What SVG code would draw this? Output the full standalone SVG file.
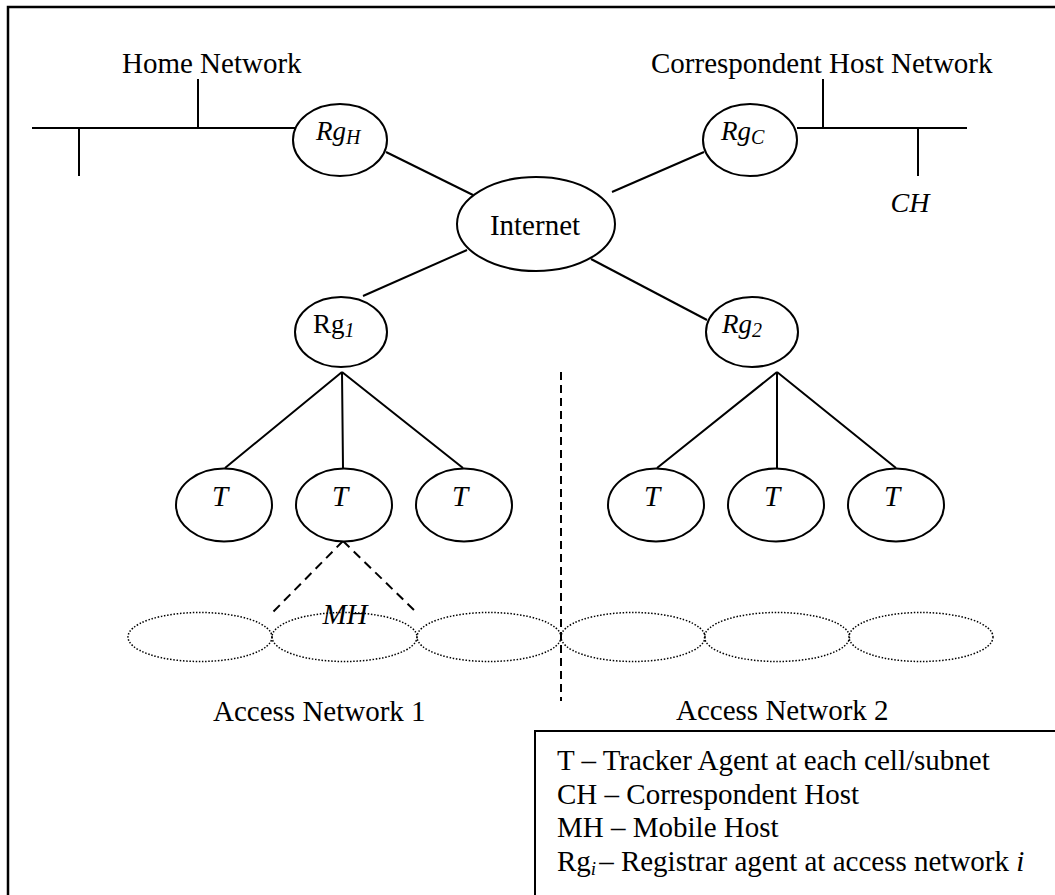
<svg xmlns="http://www.w3.org/2000/svg" width="1055" height="895" viewBox="0 0 1055 895">
<style>
text{font-family:"Liberation Serif","Times New Roman",serif;font-size:29px;fill:#000}
.it{font-style:italic}
.rg{font-size:27px}
.sub{font-size:20px}
.node{fill:#fff;stroke:#000;stroke-width:2}
.cell{fill:none;stroke:#000;stroke-width:1.5;stroke-dasharray:1.5 1.7}
.ln{stroke:#000;stroke-width:2;fill:none}
.dash{stroke:#000;stroke-width:2;fill:none;stroke-dasharray:9 6}
.vdash{stroke:#000;stroke-width:2;fill:none;stroke-dasharray:8 5}
</style>
<rect width="1055" height="895" fill="#fff"/>
<g id="frame">
<path d="M8,900 V7 H1060" fill="none" stroke="#000" stroke-width="2.5"/>
</g>
<g id="connectors">
<path class="ln" d="M32,128 H295 M198,79 V128 M79,128 V176"/>
<path class="ln" d="M797,128 H967 M823,79 V128 M918,128 V176"/>
<path class="ln" d="M386,152 L473,195"/>
<path class="ln" d="M704,152 L612,192"/>
<path class="ln" d="M467,250 L363,296"/>
<path class="ln" d="M591,259 L707,320"/>
<path class="ln" d="M342,372 L225,468 M342,372 L343,468 M342,372 L463,468"/>
<path class="ln" d="M777,372 L657,468 M777,372 L777,468 M777,372 L896,468"/>
<path class="dash" d="M343,541 L272,613 M343,541 L417,613"/>
<path class="vdash" d="M561,372 V701"/>
</g>
<g id="home-network"><text x="122" y="73">Home Network</text></g>
<g id="ch-network"><text x="651" y="73">Correspondent Host Network</text></g>
<g id="RgH"><ellipse class="node" cx="340" cy="140" rx="47" ry="36"/><text x="316" y="140" class="it rg">Rg<tspan class="sub" dy="4">H</tspan></text></g>
<g id="RgC"><ellipse class="node" cx="750" cy="140" rx="47" ry="36"/><text x="721" y="140" class="it rg">Rg<tspan class="sub" dy="4">C</tspan></text></g>
<g id="CH"><text x="910" y="212" class="it" text-anchor="middle" style="font-size:28px">CH</text></g>
<g id="Internet"><ellipse class="node" cx="536" cy="224" rx="79" ry="47"/><text x="535" y="235" text-anchor="middle">Internet</text></g>
<g id="Rg1"><ellipse class="node" cx="341" cy="332" rx="46" ry="35"/><text x="313" y="333" class="rg">Rg<tspan class="sub it" dy="4">1</tspan></text></g>
<g id="Rg2"><ellipse class="node" cx="752" cy="332" rx="46" ry="35"/><text x="722" y="333" class="it rg">Rg<tspan class="sub" dy="4">2</tspan></text></g>
<g id="T1"><ellipse class="node" cx="224" cy="505" rx="48" ry="36.5"/><text x="220" y="506" class="it" text-anchor="middle">T</text></g>
<g id="T2"><ellipse class="node" cx="344" cy="505" rx="48" ry="36.5"/><text x="340" y="506" class="it" text-anchor="middle">T</text></g>
<g id="T3"><ellipse class="node" cx="464" cy="505" rx="48" ry="36.5"/><text x="460" y="506" class="it" text-anchor="middle">T</text></g>
<g id="T4"><ellipse class="node" cx="656" cy="505" rx="48" ry="36.5"/><text x="652" y="506" class="it" text-anchor="middle">T</text></g>
<g id="T5"><ellipse class="node" cx="776" cy="505" rx="48" ry="36.5"/><text x="772" y="506" class="it" text-anchor="middle">T</text></g>
<g id="T6"><ellipse class="node" cx="896" cy="505" rx="48" ry="36.5"/><text x="892" y="506" class="it" text-anchor="middle">T</text></g>
<g id="cells">
<ellipse class="cell" cx="200" cy="637" rx="72" ry="24.5"/>
<ellipse class="cell" cx="344.5" cy="637" rx="72.5" ry="24.5"/>
<ellipse class="cell" cx="489" cy="637" rx="72" ry="24.5"/>
<ellipse class="cell" cx="633" cy="637" rx="72" ry="24.5"/>
<ellipse class="cell" cx="777" cy="637" rx="72.5" ry="24.5"/>
<ellipse class="cell" cx="921" cy="637" rx="72" ry="24.5"/>
</g>
<g id="MH"><text x="345" y="624" class="it" text-anchor="middle">MH</text></g>
<g id="access1"><text x="213" y="721">Access Network 1</text></g>
<g id="access2"><text x="676" y="720">Access Network 2</text></g>
<g id="legend">
<path d="M535,900 V731 H1060" fill="none" stroke="#000" stroke-width="2"/>
<text x="557" y="770">T – Tracker Agent at each cell/subnet</text>
<text x="557" y="804">CH – Correspondent Host</text>
<text x="557" y="837">MH – Mobile Host</text>
<text x="557" y="871">Rg<tspan class="it" style="font-size:19px" dy="4">i</tspan><tspan dy="-4" dx="3">– Registrar agent at access network </tspan><tspan class="it">i</tspan></text>
</g>
</svg>
